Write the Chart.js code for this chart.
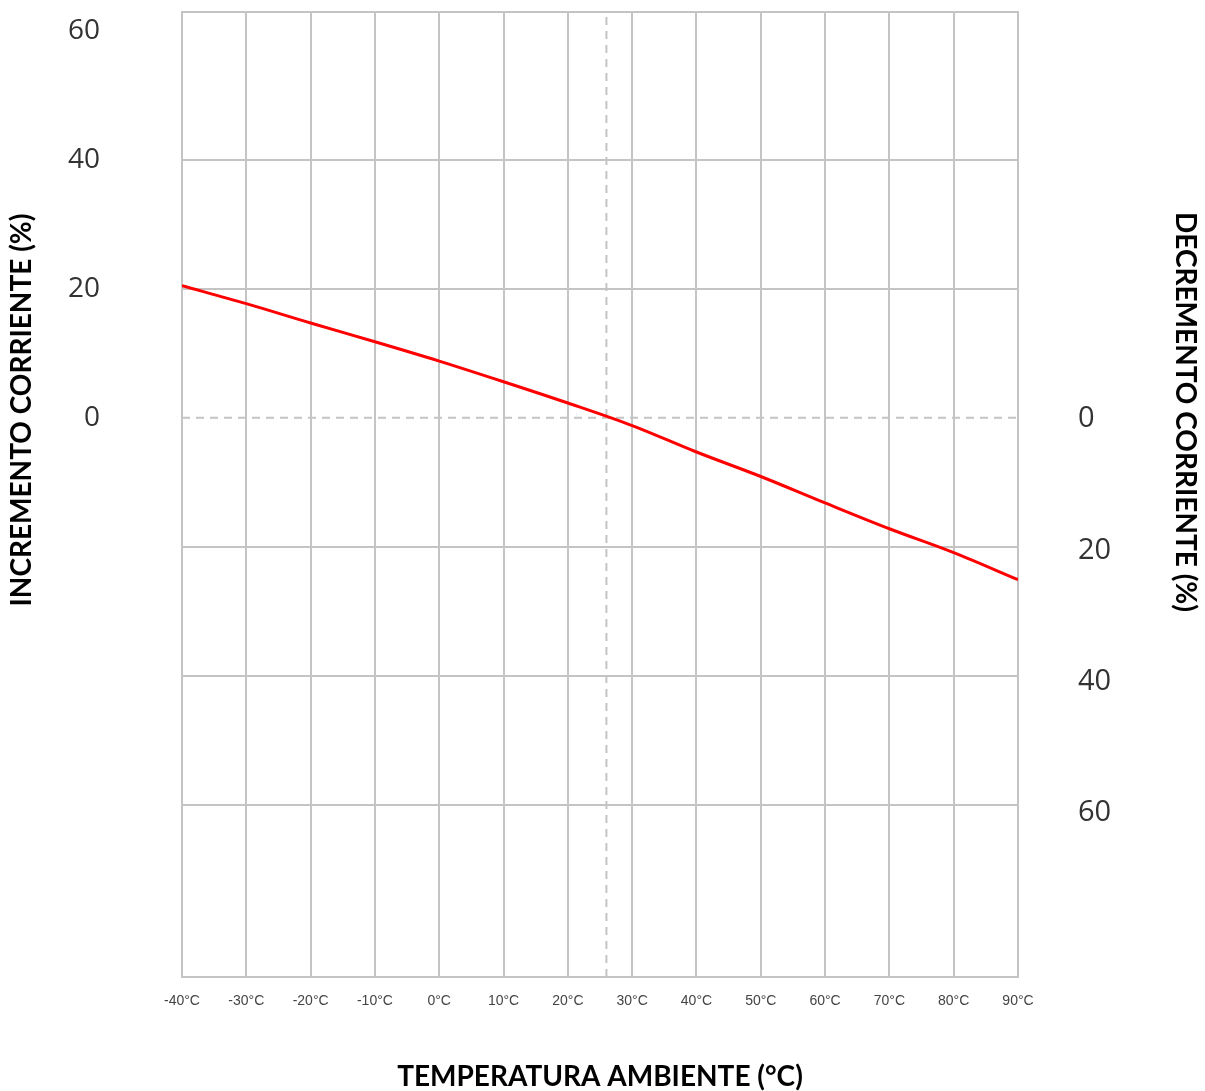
<!DOCTYPE html>
<html>
<head>
<meta charset="utf-8">
<script src="https://cdn.jsdelivr.net/npm/chart.js@4.4.0/dist/chart.umd.min.js"></script>
<style>
  html, body { margin: 0; padding: 0; background: #fff; }
</style>
</head>
<body>
<canvas id="deratingChart" width="1205" height="1091"></canvas>
<script>
// ambient temperature (°C) and current change (%), + = increment, - = decrement
const temps = [-40, -30, -20, -10, 0, 10, 20, 30, 40, 50, 60, 70, 80, 90];
const currentChange = [20.5, 17.7, 14.7, 11.8, 8.8, 5.6, 2.3, -1.2, -5.3, -9.1, -13.2, -17.2, -20.9, -25.1];
const leftTicks = [60, 40, 20, 0];
const rightTicks = [0, 20, 40, 60];
const refTemp = 26;
const yMin = -86.7, yMax = 62.9;
const gridY = [-60, -40, -20, 20, 40];

const gridColor = '#c4c4c4';
const none = 'rgba(0,0,0,0)';

const curve = temps.map((t, i) => ({ x: t, y: currentChange[i] }));

// the two vertical axis titles sit off-centre in the original, so draw them here
const sideTitles = {
    id: 'sideTitles',
    afterDraw(chart) {
        const c = chart.ctx;
        const draw = (text, x, y, angle) => {
            c.save();
            c.font = 'bold 28px Lato';
            c.fillStyle = '#000';
            c.textAlign = 'center';
            c.textBaseline = 'middle';
            c.translate(x, y);
            c.rotate(angle);
            c.fillText(text, 0, 0);
            c.restore();
        };
        draw('INCREMENTO CORRIENTE (%)', 22, 410, -Math.PI / 2);
        draw('DECREMENTO CORRIENTE (%)', 1185, 412, Math.PI / 2);
    }
};

const ctx = document.getElementById('deratingChart').getContext('2d');
const chart = new Chart(ctx, {
    type: 'line',
    data: {
        datasets: [
            {
                data: curve,
                borderColor: '#ff0000',
                borderWidth: 3,
                pointRadius: 0,
                cubicInterpolationMode: 'monotone',
                order: 0,
            },
            {
                data: [{ x: temps[0], y: 0 }, { x: temps[temps.length - 1], y: 0 }],
                borderColor: gridColor,
                borderWidth: 2,
                borderDash: [8, 6],
                pointRadius: 0,
                order: 1,
            },
            {
                data: [{ x: refTemp, y: yMin }, { x: refTemp, y: yMax }],
                borderColor: gridColor,
                borderWidth: 2,
                borderDash: [8, 6],
                pointRadius: 0,
                order: 1,
            },
        ],
    },
    options: {
        responsive: false,
        animation: false,
        layout: { padding: { top: 12 } },
        plugins: {
            legend: { display: false },
            tooltip: { enabled: false },
        },
        scales: {
            x: {
                type: 'linear',
                min: -40,
                max: 90,
                ticks: {
                    stepSize: 10,
                    padding: 16,
                    color: '#444',
                    font: { family: 'Liberation Sans', size: 14 },
                    callback: v => v + '°C',
                },
                grid: { color: gridColor, lineWidth: 2, drawTicks: false },
                border: { color: gridColor, width: 2 },
                title: {
                    display: true,
                    text: 'TEMPERATURA AMBIENTE (°C)',
                    color: '#000',
                    font: { family: 'Lato', size: 28, weight: 'bold', lineHeight: 1 },
                    padding: { top: 0, bottom: 0 },
                },
                afterFit: s => { s.height = 114; },
            },
            y: {
                position: 'left',
                min: yMin,
                max: yMax,
                afterBuildTicks: s => {
                    s.ticks = [yMin, ...gridY, 0, 60, yMax].sort((a, b) => a - b).map(v => ({ value: v }));
                },
                ticks: {
                    autoSkip: false,
                    padding: 2,
                    color: '#333',
                    font: { family: 'Open Sans', size: 28, lineHeight: 0.7 },
                    callback: v => leftTicks.includes(v) ? String(v) : '',
                },
                grid: {
                    drawTicks: true,
                    tickLength: 80,
                    tickColor: none,
                    lineWidth: 2,
                    color: c => (gridY.includes(c.tick.value) || c.tick.value === yMax) ? gridColor : none,
                },
                border: { color: gridColor, width: 2 },
                afterFit: s => { s.width = 182; },
            },
            y2: {
                position: 'right',
                min: -84.95,
                max: 61.95,
                afterBuildTicks: s => {
                    s.ticks = rightTicks.map(v => ({ value: -v })).reverse();
                },
                ticks: {
                    autoSkip: false,
                    padding: 2,
                    color: '#333',
                    font: { family: 'Open Sans', size: 29, lineHeight: 0.7 },
                    callback: v => String(Math.abs(v)),
                },
                grid: { display: true, drawOnChartArea: false, drawTicks: true, tickLength: 58, tickColor: none },
                border: { color: gridColor, width: 2 },
                afterFit: s => { s.width = 187; },
            },
        },
    },
    plugins: [sideTitles],
});
</script>
</body>
</html>
